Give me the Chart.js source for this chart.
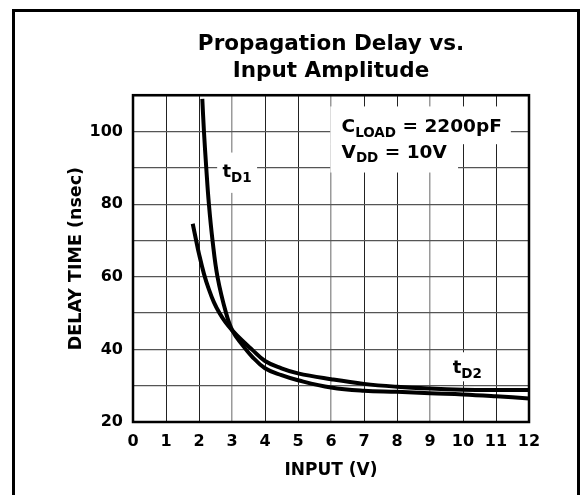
<!DOCTYPE html>
<html><head><meta charset="utf-8">
<script src="https://cdn.jsdelivr.net/npm/chart.js@4"></script>
<style>
html,body{margin:0;padding:0;background:#fff;}
#wrap{position:relative;width:585px;height:495px;overflow:hidden;}
#frame{position:absolute;left:12px;top:9px;width:568px;height:540px;border:3px solid #000;box-sizing:border-box;pointer-events:none;}
canvas{position:absolute;left:0;top:0;}
</style></head><body>
<div id="wrap"><canvas id="c" width="585" height="495"></canvas><div id="frame"></div></div>
<script>
// ---- data ----
const td1X = [2.10, 2.15, 2.22, 2.30, 2.41, 2.56, 2.82, 3.02, 3.30, 3.60, 4.0, 4.5, 5.0, 6.0, 7.0, 8.0, 9.0, 10.0, 11.0, 12.0];
const td1Y = [109, 100, 90, 80, 70, 60, 50, 45, 41.4, 38.1, 34.8, 32.9, 31.5, 29.5, 28.6, 28.3, 27.9, 27.6, 27.1, 26.5];
const td2X = [1.81, 1.90, 2.00, 2.15, 2.30, 2.45, 2.62, 2.80, 3.00, 3.30, 3.60, 4.0, 4.5, 5.0, 6.0, 7.0, 8.0, 9.0, 10.0, 11.0, 12.0];
const td2Y = [74.6, 70.6, 66.3, 60.8, 56.5, 53.0, 50.0, 47.5, 45.3, 42.5, 40.0, 36.8, 34.8, 33.4, 31.8, 30.5, 29.7, 29.2, 28.9, 28.8, 28.8];
const xTickValues = [0,1,2,3,4,5,6,7,8,9,10,11,12];
const yTickLabels = [20, 40, 60, 80, 100];
const titleLines = ['Propagation Delay vs.', 'Input Amplitude'];

const FONT = "'DejaVu Sans', 'Liberation Sans', Arial, sans-serif";
Chart.defaults.font.family = FONT;
Chart.defaults.color = '#000';

// text notes (data-space anchors)
const noteBoxes = [
  [5.98, 11.45, 106.9, 96.5],
  [5.98, 9.85, 96.6, 88.7],
  [2.55, 3.76, 94.2, 83.1],
  [9.55, 10.73, 39.2, 31.2]
];
const notes = [
  {x: 6.32, y: 99.8, parts: [['C', 18.5, 0], ['LOAD', 13.5, 4.5], [' = 2200pF', 18.5, 0]]},
  {x: 6.32, y: 92.8, parts: [['V', 18.5, 0], ['DD', 13.5, 4.5], [' = 10V', 18.5, 0]]},
  {x: 2.71, y: 87.6, parts: [['t', 18, 0], ['D1', 13.5, 5]]},
  {x: 9.69, y: 33.45, parts: [['t', 18, 0], ['D2', 13.5, 5]]}
];

const notePlugin = {
  id: 'notes',
  beforeDatasetsDraw(chart) {
    const {ctx, scales: {x, y}} = chart;
    ctx.save();
    ctx.fillStyle = '#fff';
    for (const b of noteBoxes) {
      const x0 = x.getPixelForValue(b[0]), x1 = x.getPixelForValue(b[1]);
      const y0 = y.getPixelForValue(b[2]), y1 = y.getPixelForValue(b[3]);
      ctx.fillRect(x0, y0, x1 - x0, y1 - y0);
    }
    ctx.fillStyle = '#000';
    ctx.textBaseline = 'alphabetic';
    ctx.textAlign = 'left';
    for (const n of notes) {
      let px = x.getPixelForValue(n.x);
      const py = y.getPixelForValue(n.y);
      for (const [t, s, dy] of n.parts) {
        ctx.font = 'bold ' + s + 'px ' + FONT;
        ctx.fillText(t, px, py + dy);
        px += ctx.measureText(t).width;
      }
    }
    ctx.restore();
  },
  afterDatasetsDraw(chart) {
    const {ctx, chartArea: a} = chart;
    ctx.save();
    ctx.strokeStyle = '#000';
    ctx.lineWidth = 2.5;
    ctx.strokeRect(a.left, a.top, a.right - a.left, a.bottom - a.top);
    ctx.restore();
  }
};

const toPts = (xs, ys) => xs.map((v, i) => ({x: v, y: ys[i]}));

new Chart(document.getElementById('c'), {
  type: 'line',
  data: {
    datasets: [
      {label: 'tD1', data: toPts(td1X, td1Y), borderColor: '#000', borderWidth: 4, pointRadius: 0, tension: 0.4, fill: false},
      {label: 'tD2', data: toPts(td2X, td2Y), borderColor: '#000', borderWidth: 4, pointRadius: 0, tension: 0.4, fill: false}
    ]
  },
  options: {
    responsive: false,
    animation: false,
    events: [],
    layout: {padding: {top: 24, left: 60, right: 56, bottom: 12}},
    plugins: {
      legend: {display: false},
      tooltip: {enabled: false},
      title: {
        display: true, fullSize: false, text: titleLines, color: '#000',
        font: {size: 21.5, weight: 'bold', lineHeight: 1.26},
        padding: {top: 6.5, bottom: 10.5}
      }
    },
    scales: {
      x: {
        type: 'linear', min: 0, max: 12,
        afterBuildTicks: s => { s.ticks = xTickValues.map(v => ({value: v})); },
        afterFit: s => { s.height = 61; },
        ticks: {padding: 10, font: {size: 16, weight: 'bold'}, color: '#000', maxRotation: 0},
        grid: {
          drawTicks: false,
          color: c => (c.tick && c.tick.value % 3 === 0) ? '#9a9a9a' : '#222',
          lineWidth: c => (c.tick && c.tick.value % 3 === 0) ? 1.5 : 1
        },
        border: {display: false},
        title: {display: true, text: 'INPUT (V)', color: '#000', font: {size: 17, weight: 'bold', lineHeight: 1.2}, padding: {top: 0, bottom: 1.8}}
      },
      y: {
        type: 'linear', min: 20, max: 110,
        afterFit: s => { s.width = 73; },
        ticks: {stepSize: 10, padding: 10, font: {size: 16, weight: 'bold'}, color: '#000',
          callback: v => yTickLabels.includes(v) ? String(v) : ''},
        grid: {drawTicks: false, color: '#555', lineWidth: 1.2},
        border: {display: false},
        title: {display: true, text: 'DELAY TIME (nsec)', color: '#000', font: {size: 17.5, weight: 'bold', lineHeight: 1.2}, padding: {top: 6, bottom: 0}}
      }
    }
  },
  plugins: [notePlugin]
});
</script>
</body></html>
